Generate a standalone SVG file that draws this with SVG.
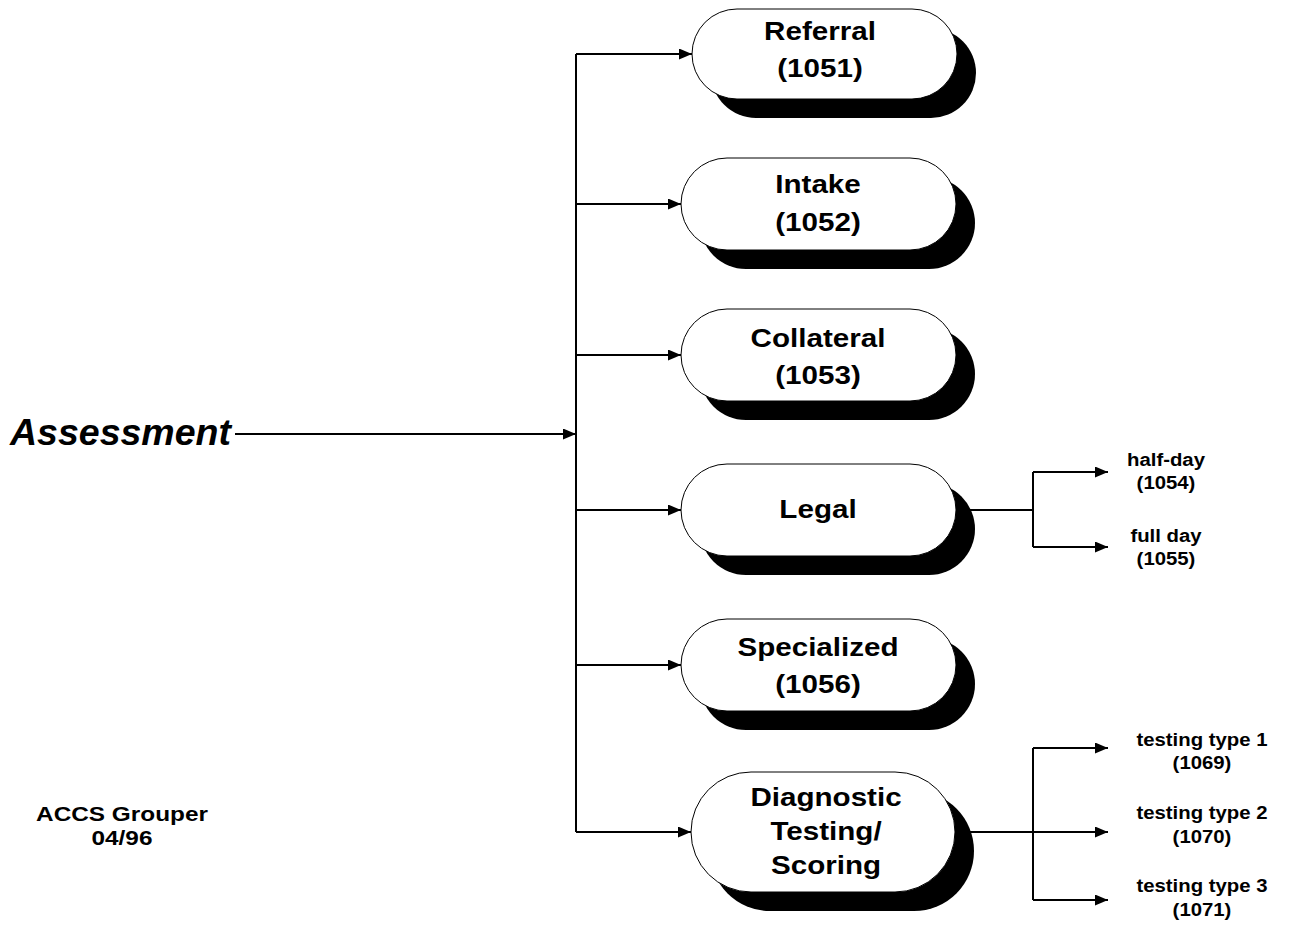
<svg xmlns="http://www.w3.org/2000/svg" width="1290" height="926" viewBox="0 0 1290 926">
<defs>
<style>
.bg{fill:#ffffff}
.ln{fill:none;stroke:#000;stroke-width:2}
.sh{fill:#000}
.pill{fill:#fff;stroke:#000;stroke-width:1}
.nt{font-family:"Liberation Sans",Arial,sans-serif;font-weight:bold;font-size:25.5px;fill:#000;text-anchor:middle}
.st{font-family:"Liberation Sans",Arial,sans-serif;font-weight:bold;font-size:18.5px;fill:#000;text-anchor:middle}
.ft{font-family:"Liberation Sans",Arial,sans-serif;font-weight:bold;font-size:21px;fill:#000;text-anchor:middle}
.at{font-family:"Liberation Sans",Arial,sans-serif;font-weight:bold;font-style:italic;font-size:37.5px;fill:#000}
</style>
<marker id="ah" markerWidth="13" markerHeight="11" refX="13" refY="5.5" orient="auto" markerUnits="userSpaceOnUse">
<path d="M0,0 L13,5.5 L0,11 Z" fill="#000"/>
</marker>
</defs>
<rect class="bg" x="0" y="0" width="1290" height="926"/>

<g id="connectors">
<path class="ln" d="M235,434 H576" marker-end="url(#ah)"/>
<path class="ln" d="M576,54 V832"/>
<path class="ln" d="M576,54 H692" marker-end="url(#ah)"/>
<path class="ln" d="M576,204 H681" marker-end="url(#ah)"/>
<path class="ln" d="M576,355 H681" marker-end="url(#ah)"/>
<path class="ln" d="M576,510 H681" marker-end="url(#ah)"/>
<path class="ln" d="M576,665 H681" marker-end="url(#ah)"/>
<path class="ln" d="M576,832 H691" marker-end="url(#ah)"/>
<path class="ln" d="M956,510 H1033"/>
<path class="ln" d="M1033,472 V547"/>
<path class="ln" d="M1033,472 H1108" marker-end="url(#ah)"/>
<path class="ln" d="M1033,547 H1108" marker-end="url(#ah)"/>
<path class="ln" d="M955,832 H1108" marker-end="url(#ah)"/>
<path class="ln" d="M1033,748 V900"/>
<path class="ln" d="M1033,748 H1108" marker-end="url(#ah)"/>
<path class="ln" d="M1033,900 H1108" marker-end="url(#ah)"/>
</g>

<g id="assessment">
<text class="at" x="10" y="445">Assessment</text>
</g>

<g id="referral">
<rect class="sh" x="711" y="28" width="265" height="90" rx="45"/>
<rect class="pill" x="692" y="9" width="265" height="90" rx="45"/>
<text class="nt" transform="translate(820,40) scale(1.16,1)">Referral</text>
<text class="nt" transform="translate(820,77) scale(1.16,1)">(1051)</text>
</g>

<g id="intake">
<rect class="sh" x="700" y="177" width="275" height="92" rx="46"/>
<rect class="pill" x="681" y="158" width="275" height="92" rx="46"/>
<text class="nt" transform="translate(818,193) scale(1.16,1)">Intake</text>
<text class="nt" transform="translate(818,231) scale(1.16,1)">(1052)</text>
</g>

<g id="collateral">
<rect class="sh" x="700" y="328" width="275" height="92" rx="46"/>
<rect class="pill" x="681" y="309" width="275" height="92" rx="46"/>
<text class="nt" transform="translate(818,347) scale(1.16,1)">Collateral</text>
<text class="nt" transform="translate(818,384) scale(1.16,1)">(1053)</text>
</g>

<g id="legal">
<rect class="sh" x="700" y="483" width="275" height="92" rx="46"/>
<rect class="pill" x="681" y="464" width="275" height="92" rx="46"/>
<text class="nt" transform="translate(818,518) scale(1.16,1)">Legal</text>
</g>

<g id="specialized">
<rect class="sh" x="700" y="638" width="275" height="92" rx="46"/>
<rect class="pill" x="681" y="619" width="275" height="92" rx="46"/>
<text class="nt" transform="translate(818,656) scale(1.16,1)">Specialized</text>
<text class="nt" transform="translate(818,693) scale(1.16,1)">(1056)</text>
</g>

<g id="diagnostic">
<rect class="sh" x="710" y="791" width="264" height="120" rx="60"/>
<rect class="pill" x="691" y="772" width="264" height="120" rx="60"/>
<text class="nt" transform="translate(826,806) scale(1.16,1)">Diagnostic</text>
<text class="nt" transform="translate(826,840) scale(1.16,1)">Testing/</text>
<text class="nt" transform="translate(826,874) scale(1.16,1)">Scoring</text>
</g>

<g id="half-day">
<text class="st" transform="translate(1166,466) scale(1.1,1)">half-day</text>
<text class="st" transform="translate(1166,489) scale(1.1,1)">(1054)</text>
</g>

<g id="full-day">
<text class="st" transform="translate(1166,542) scale(1.1,1)">full day</text>
<text class="st" transform="translate(1166,565) scale(1.1,1)">(1055)</text>
</g>

<g id="testing1">
<text class="st" transform="translate(1202,746) scale(1.1,1)">testing type 1</text>
<text class="st" transform="translate(1202,769) scale(1.1,1)">(1069)</text>
</g>

<g id="testing2">
<text class="st" transform="translate(1202,819) scale(1.1,1)">testing type 2</text>
<text class="st" transform="translate(1202,843) scale(1.1,1)">(1070)</text>
</g>

<g id="testing3">
<text class="st" transform="translate(1202,892) scale(1.1,1)">testing type 3</text>
<text class="st" transform="translate(1202,916) scale(1.1,1)">(1071)</text>
</g>

<g id="footer">
<text class="ft" transform="translate(122,821) scale(1.16,1)">ACCS Grouper</text>
<text class="ft" transform="translate(122,845) scale(1.16,1)">04/96</text>
</g>
</svg>
